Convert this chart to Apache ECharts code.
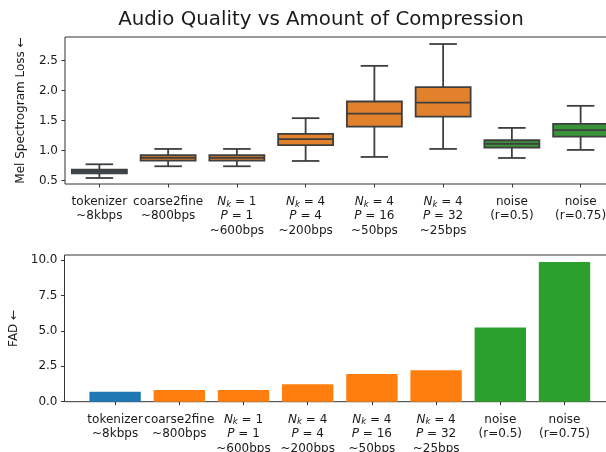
<!DOCTYPE html>
<html>
<head>
<meta charset="utf-8">
<script src="https://cdn.jsdelivr.net/npm/echarts@6/dist/echarts.min.js"></script>
<style>
  html, body { margin: 0; padding: 0; background: #fff; }
  #chart { width: 606px; height: 452px; }
</style>
</head>
<body>
<div id="chart"></div>
<script>
// Compression settings compared in both panels
const categories = ['tokenizer', 'coarse2fine', 'Nk1_P1', 'Nk4_P4', 'Nk4_P16', 'Nk4_P32', 'noise_0.5', 'noise_0.75'];
const tickLabels = [
  'tokenizer\n~8kbps',
  'coarse2fine\n~800bps',
  '{it|N}{sub|k}{r| = 1}\n{it|P}{r| = 1}\n~600bps',
  '{it|N}{sub|k}{r| = 4}\n{it|P}{r| = 4}\n~200bps',
  '{it|N}{sub|k}{r| = 4}\n{it|P}{r| = 16}\n~50bps',
  '{it|N}{sub|k}{r| = 4}\n{it|P}{r| = 32}\n~25bps',
  'noise\n(r=0.5)',
  'noise\n(r=0.75)'
];
const groups = ['tokenizer', 'vampnet', 'vampnet', 'vampnet', 'vampnet', 'vampnet', 'noise', 'noise'];

// Mel spectrogram loss distribution (whisker low, Q1, median, Q3, whisker high)
const melLow    = [0.545, 0.740, 0.740, 0.828, 0.895, 1.028, 0.878, 1.012];
const melQ1     = [0.623, 0.833, 0.833, 1.090, 1.400, 1.567, 1.050, 1.233];
const melMedian = [0.657, 0.878, 0.878, 1.190, 1.617, 1.800, 1.112, 1.340];
const melQ3     = [0.683, 0.923, 0.923, 1.278, 1.817, 2.057, 1.173, 1.445];
const melHigh   = [0.773, 1.028, 1.028, 1.540, 2.410, 2.773, 1.378, 1.745];

// Frechet Audio Distance per setting
const fad = [0.71, 0.83, 0.82, 1.23, 1.96, 2.22, 5.25, 9.88];

const melTicks = [0.5, 1.0, 1.5, 2.0, 2.5];
const fadTicks = [0, 2.5, 5.0, 7.5, 10.0];

const boxColors = { tokenizer: '#3274a1', vampnet: '#e1812c', noise: '#3a923a' };
const barColors = { tokenizer: '#1f77b4', vampnet: '#ff7f0e', noise: '#2ca02c' };

const FONT = 'DejaVu Sans';
const INK = '#1a1a1a';
const SPINE = '#333333';
const EDGE = '#3f3f3f';

const richStyles = {
  it: { fontFamily: FONT, fontStyle: 'italic', fontSize: 12, color: INK, lineHeight: 14.5 },
  sub: { fontFamily: FONT, fontStyle: 'italic', fontSize: 8.5, color: INK, lineHeight: 14.5, verticalAlign: 'bottom', padding: [5, 0, 0, 0] },
  r: { fontFamily: FONT, fontSize: 12, color: INK, lineHeight: 14.5 }
};

function categoryAxis(gridIndex, margin) {
  return {
    type: 'category', gridIndex: gridIndex, data: categories,
    axisLine: { show: false },
    axisTick: { show: true, alignWithLabel: true, length: 3.5, lineStyle: { color: SPINE, width: 1 } },
    splitLine: { show: false },
    axisLabel: {
      interval: 0, margin: margin, fontFamily: FONT, fontSize: 12, color: INK, lineHeight: 14.5,
      hideOverlap: false,
      formatter: function (v, i) { return tickLabels[i]; },
      rich: richStyles
    }
  };
}

function valueAxis(gridIndex, min, max, ticks, name, nameGap) {
  return {
    type: 'value', gridIndex: gridIndex, min: min, max: max,
    name: name, nameLocation: 'middle', nameRotate: 90, nameGap: nameGap,
    nameTextStyle: { fontFamily: FONT, fontSize: 12, color: INK },
    axisLine: { show: false },
    splitLine: { show: false },
    axisTick: { show: true, length: 3.5, customValues: ticks, lineStyle: { color: SPINE, width: 1 } },
    axisLabel: {
      customValues: ticks, margin: 7, fontFamily: FONT, fontSize: 12, color: INK,
      formatter: function (v) { return v.toFixed(1); }
    }
  };
}

const boxData = categories.map(function (c, i) {
  return [i, melLow[i], melQ1[i], melMedian[i], melQ3[i], melHigh[i]];
});

function renderBox(params, api) {
  const i = api.value(0);
  const band = api.size([1, 0])[0];
  const half = band * 0.4;
  const cap = half / 2;
  const x = api.coord([i, 0])[0];
  const yLow = api.coord([i, api.value(1)])[1];
  const yQ1 = api.coord([i, api.value(2)])[1];
  const yMed = api.coord([i, api.value(3)])[1];
  const yQ3 = api.coord([i, api.value(4)])[1];
  const yHigh = api.coord([i, api.value(5)])[1];
  const line = { stroke: EDGE, lineWidth: 1.8 };
  const fill = boxColors[groups[i]];
  return {
    type: 'group',
    children: [
      { type: 'line', shape: { x1: x, y1: yQ3, x2: x, y2: yHigh }, style: line },
      { type: 'line', shape: { x1: x, y1: yQ1, x2: x, y2: yLow }, style: line },
      { type: 'line', shape: { x1: x - cap, y1: yHigh, x2: x + cap, y2: yHigh }, style: line },
      { type: 'line', shape: { x1: x - cap, y1: yLow, x2: x + cap, y2: yLow }, style: line },
      { type: 'rect', shape: { x: x - half, y: yQ3, width: 2 * half, height: yQ1 - yQ3 },
        style: { fill: fill, stroke: EDGE, lineWidth: 1.8 } },
      { type: 'line', shape: { x1: x - half, y1: yMed, x2: x + half, y2: yMed }, style: line }
    ]
  };
}

const chart = echarts.init(document.getElementById('chart'), null, { renderer: 'canvas' });
chart.setOption({
  animation: false,
  backgroundColor: '#ffffff',
  title: {
    text: 'Audio Quality vs Amount of Compression',
    left: 316, top: 5, textAlign: 'center',
    textStyle: { fontFamily: FONT, fontSize: 19.8, fontWeight: 'normal', color: INK }
  },
  grid: [
    { left: 65, top: 37, width: 550, height: 147, show: true, borderColor: SPINE, borderWidth: 1,
      backgroundColor: 'transparent', outerBoundsMode: 'none', containLabel: false },
    { left: 64.5, top: 255, width: 551, height: 146.7, show: true, borderColor: SPINE, borderWidth: 1,
      backgroundColor: 'transparent', outerBoundsMode: 'none', containLabel: false },
    { left: 83, top: 255, width: 513.6, height: 146.7, outerBoundsMode: 'none', containLabel: false }
  ],
  xAxis: [
    categoryAxis(0, 10.5),
    { type: 'value', gridIndex: 1, min: 0, max: 1, show: false },
    categoryAxis(2, 10.5)
  ],
  yAxis: [
    valueAxis(0, 0.445, 2.89, melTicks, 'Mel Spectrogram Loss \u2190', 38),
    valueAxis(1, 0, 10.37, fadTicks, 'FAD \u2190', 42),
    { type: 'value', gridIndex: 2, min: 0, max: 10.37, show: false }
  ],
  series: [
    {
      type: 'custom', xAxisIndex: 0, yAxisIndex: 0,
      encode: { x: 0, y: [1, 2, 3, 4, 5] },
      data: boxData,
      renderItem: renderBox
    },
    {
      type: 'bar', xAxisIndex: 2, yAxisIndex: 2, barWidth: '80%',
      data: fad.map(function (v, i) {
        return { value: v, itemStyle: { color: barColors[groups[i]] } };
      })
    }
  ]
});
</script>
</body>
</html>
